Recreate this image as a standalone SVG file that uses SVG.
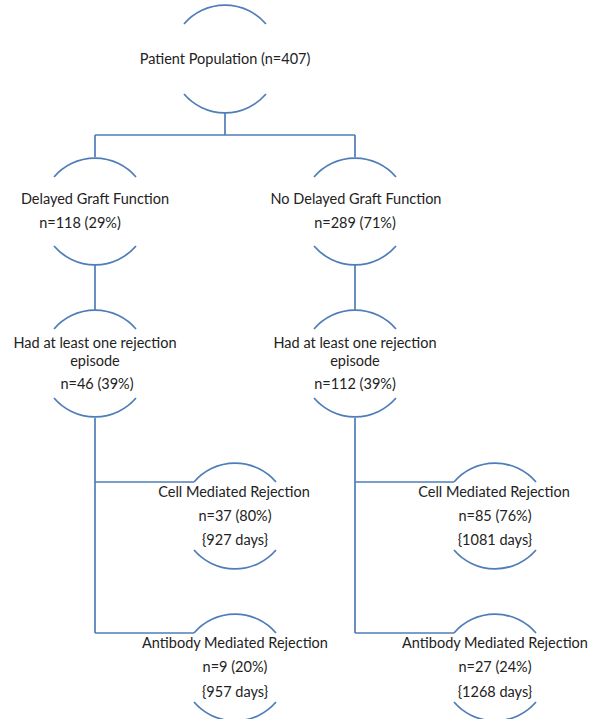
<svg xmlns="http://www.w3.org/2000/svg" width="590" height="719" viewBox="0 0 590 719">
<style>
.arc{fill:none;stroke:#4f7db8;stroke-width:1.7}
.ln{fill:none;stroke:#4f7db8;stroke-width:1.7}
text{font-family:Lato,"Liberation Sans",sans-serif;font-size:14.5px;fill:#222;text-anchor:middle}
</style>
<rect width="590" height="719" fill="#fff"/>
<g id="connectors">
<path class="ln" d="M225,113V135M95,135H355M95,135V157M355,135V157"/>
<path class="ln" d="M95,265V310M355,265V310"/>
<path class="ln" d="M95,418V633M95,482H194M95,633H194"/>
<path class="ln" d="M355,418V633M355,482H454M355,633H454"/>
</g>
<g id="n_population">
<path class="arc" d="M184,24A54,54 0 0 1 266,24M184,94A54,54 0 0 0 266,94"/>
<text x="225" y="64">Patient Population (n=407)</text>
</g>
<g id="n_dgf">
<path class="arc" d="M54,177A54,54 0 0 1 136,177M54,246A54,54 0 0 0 136,246"/>
<text x="95" y="204">Delayed Graft Function</text>
<text x="80" y="228">n=118 (29%)</text>
</g>
<g id="n_nodgf">
<path class="arc" d="M314,177A54,54 0 0 1 396,177M314,246A54,54 0 0 0 396,246"/>
<text x="356" y="204">No Delayed Graft Function</text>
<text x="355" y="228">n=289 (71%)</text>
</g>
<g id="n_rej_l">
<path class="arc" d="M54,329A54,54 0 0 1 136,329M54,398A54,54 0 0 0 136,398"/>
<text x="95" y="348">Had at least one rejection</text>
<text x="95" y="366">episode</text>
<text x="97" y="389">n=46 (39%)</text>
</g>
<g id="n_rej_r">
<path class="arc" d="M314,329A54,54 0 0 1 396,329M314,398A54,54 0 0 0 396,398"/>
<text x="355" y="348">Had at least one rejection</text>
<text x="355" y="366">episode</text>
<text x="355" y="389">n=112 (39%)</text>
</g>
<g id="n_cmr_l">
<path class="arc" d="M194,482A54,54 0 0 1 276,482M194,550A54,54 0 0 0 276,550"/>
<text x="234" y="497">Cell Mediated Rejection</text>
<text x="235" y="521">n=37 (80%)</text>
<text x="235" y="545">{927 days}</text>
</g>
<g id="n_amr_l">
<path class="arc" d="M194,633A54,54 0 0 1 276,633M194,702A54,54 0 0 0 276,702"/>
<text x="235" y="648">Antibody Mediated Rejection</text>
<text x="235" y="672">n=9 (20%)</text>
<text x="235" y="697">{957 days}</text>
</g>
<g id="n_cmr_r">
<path class="arc" d="M454,482A54,54 0 0 1 536,482M454,550A54,54 0 0 0 536,550"/>
<text x="494" y="497">Cell Mediated Rejection</text>
<text x="495" y="521">n=85 (76%)</text>
<text x="495" y="545">{1081 days}</text>
</g>
<g id="n_amr_r">
<path class="arc" d="M454,633A54,54 0 0 1 536,633M454,702A54,54 0 0 0 536,702"/>
<text x="495" y="648">Antibody Mediated Rejection</text>
<text x="495" y="672">n=27 (24%)</text>
<text x="495" y="697">{1268 days}</text>
</g>
</svg>
